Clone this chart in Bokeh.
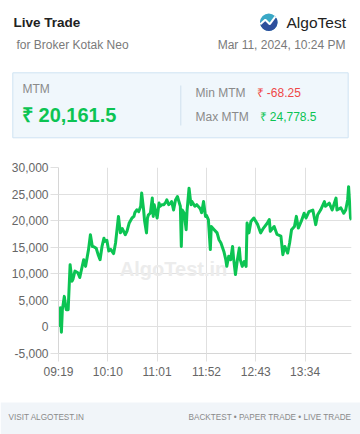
import numpy as np
from bokeh.plotting import figure
from bokeh.layouts import column
from bokeh.models import Range1d, FixedTicker, Label, NumeralTickFormatter
from bokeh.embed import file_html
from bokeh.resources import INLINE
from bokeh.core.properties import value

# ---------------- data ----------------
times = ["09:19", "09:21", "09:22", "09:23", "09:25", "09:27", "09:29", "09:31", "09:33", "09:34",
         "09:36", "09:39", "09:41", "09:45", "09:47", "09:50", "09:52", "09:54", "09:55", "09:58",
         "10:00", "10:02", "10:04", "10:06", "10:07", "10:09", "10:11", "10:13", "10:16", "10:18",
         "10:21", "10:23", "10:25", "10:28", "10:30", "10:32", "10:33", "10:35", "10:37", "10:38",
         "10:40", "10:42", "10:44", "10:45", "10:47", "10:48", "10:50", "10:51", "10:52", "10:54",
         "10:56", "10:57", "10:58", "11:01", "11:03", "11:04", "11:06", "11:08", "11:10", "11:11",
         "11:13", "11:15", "11:16", "11:18", "11:20", "11:22", "11:23", "11:25", "11:26", "11:27",
         "11:29", "11:31", "11:32", "11:34", "11:36", "11:37", "11:40", "11:42", "11:45", "11:46",
         "11:47", "11:49", "11:51", "11:52", "11:54", "11:56", "11:57", "12:00", "12:03", "12:05",
         "12:07", "12:10", "12:12", "12:13", "12:15", "12:17", "12:19", "12:20", "12:22", "12:24",
         "12:26", "12:27", "12:29", "12:31", "12:33", "12:34", "12:36", "12:38", "12:41", "12:45",
         "12:48", "12:51", "12:55", "12:57", "12:58", "13:02", "13:05", "13:09", "13:11", "13:13",
         "13:16", "13:18", "13:20", "13:23", "13:25", "13:27", "13:30", "13:33", "13:35", "13:38",
         "13:42", "13:45", "13:47", "13:50", "13:54", "13:55", "13:59", "14:02", "14:06", "14:07",
         "14:11", "14:14", "14:16", "14:18", "14:19", "14:21", "14:22"]
mtm = [0, 3600, -1000, 3250, 5750, 3250, 3250, 11700, 8600, 9000,
       10500, 10200, 9300, 12650, 11400, 14500, 17350, 15150, 15150, 14800,
       13600, 12650, 15150, 16700, 16100, 16300, 14300, 14600, 13800, 15800,
       20800, 17700, 18500, 17350, 18100, 19500, 19850, 20500, 20800, 21500,
       22050, 21700, 22700, 25200, 22050, 20000, 17700, 20500, 21100, 21400,
       24250, 20800, 23000, 20500, 23300, 22700, 23000, 23000, 23500, 23900,
       23000, 23300, 23600, 22000, 23900, 24550, 23900, 22700, 15150, 22000,
       21400, 18300, 22000, 26100, 23000, 23600, 22700, 23000, 22400, 22050,
       21500, 23600, 20800, 21000, 20200, 14550, 18900, 18300, 17700, 16400,
       15800, 14200, 12650, 11400, 13300, 12650, 15150, 13000, 9850, 12650,
       14850, 12650, 11400, 12300, 11400, 19550, 17700, 19850, 20500, 19250,
       17700, 18600, 19550, 20200, 18000, 18900, 17400, 17100, 13600, 15150,
       13900, 15800, 18300, 18900, 20800, 18600, 19850, 21400, 20500, 21700,
       22000, 19250, 21100, 22000, 23600, 22700, 23300, 22000, 24250, 22000,
       22400, 21400, 22000, 23900, 26400, 20500, 20161.5]
tick_labels = ["09:19", "10:10", "11:01", "11:52", "12:43", "13:34"]
y_ticks = [-5000, 0, 5000, 10000, 15000, 20000, 25000, 30000]

title = "Live Trade"
subtitle = "for Broker Kotak Neo"
brand = "AlgoTest"
stamp = "Mar 11, 2024, 10:24 PM"
mtm_label = "MTM"
mtm_now = "₹ 20,161.5"
min_label, min_val = "Min MTM", "₹ -68.25"
max_label, max_val = "Max MTM", "₹ 24,778.5"
footer_left = "VISIT ALGOTEST.IN"
footer_right = "BACKTEST • PAPER TRADE • LIVE TRADE"

FNAME = "Liberation Sans"
FONT = value(FNAME)
GREEN = "#0cc453"
W = 360


def to_min(t):
    h, m = map(int, t.split(":"))
    return h * 60 + m - (9 * 60 + 19)


xs = [to_min(t) for t in times]
tick_pos = [to_min(t) for t in tick_labels]


def blank(h):
    f = figure(width=W, height=h, x_range=Range1d(0, W), y_range=Range1d(0, h),
               output_backend="svg", toolbar_location=None, min_border=0)
    f.axis.visible = False
    f.grid.visible = False
    f.outline_line_color = None
    f.background_fill_color = "white"
    f.border_fill_color = "white"
    f.frame_align = False
    return f


# ---------------- header ----------------
H1 = 158
hd = blank(H1)
Y = lambda yy: H1 - yy

hd.text(x=[13], y=[Y(21.5)], text=[title], text_font=FONT, text_font_size="13.5px",
        text_font_style="bold", text_color="#222222", text_baseline="middle")
hd.text(x=[16], y=[Y(44)], text=[subtitle], text_font=FONT, text_font_size="12px",
        text_color="#7a7a7a", text_baseline="middle")
hd.text(x=[345], y=[Y(44)], text=[stamp], text_font=FONT, text_font_size="12px",
        text_color="#7a7a7a", text_baseline="middle", text_align="right")
hd.text(x=[286], y=[Y(21.7)], text=[brand], text_font=FONT, text_font_size="15.5px",
        text_color="#222222", text_baseline="middle")

# logo
cx, cy, r = 268.3, Y(21.7), 8.7
hd.circle(x=[cx], y=[cy], radius=r, fill_color="#3aa8c6", line_color=None)
zig_x = np.array([-8.5, -3.5, 1.0, 6.5])
zig_y = np.array([-2.0, 2.5, -2.0, 5.5])
ang = np.linspace(np.deg2rad(20), np.deg2rad(-200), 40)
px = list(cx + zig_x) + list(cx + r * np.cos(ang))
py = list(cy + zig_y) + list(cy + r * np.sin(ang))
hd.patch(x=px, y=py, fill_color="#2e4f9c", line_color=None)
hd.line(x=cx + zig_x, y=cy + zig_y, line_color="white", line_width=2)

# MTM box
hd.quad(left=[12.3], right=[347.7], top=[Y(72.3)], bottom=[Y(137.3)],
        fill_color="#f0f7fc", line_color="#cfe3f2", line_width=1)
hd.segment(x0=[180.3], x1=[180.3], y0=[Y(85)], y1=[Y(125)], line_color="#cfe0ee", line_width=1)
hd.text(x=[22], y=[Y(88.3)], text=[mtm_label], text_font=FONT, text_font_size="12px",
        text_color="#8a8a8a", text_baseline="middle")
hd.text(x=[21.5], y=[Y(114)], text=[mtm_now], text_font=FONT, text_font_size="20px",
        text_font_style="bold", text_color=GREEN, text_baseline="middle")
hd.text(x=[195, 195], y=[Y(92.3), Y(116.7)], text=[min_label, max_label], text_font=FONT,
        text_font_size="12px", text_color="#8a8a8a", text_baseline="middle")
hd.text(x=[256], y=[Y(92.3)], text=[min_val], text_font=FONT, text_font_size="12px",
        text_color="#ef4747", text_baseline="middle")
hd.text(x=[259], y=[Y(116.7)], text=[max_val], text_font=FONT, text_font_size="12px",
        text_color=GREEN, text_baseline="middle")

# ---------------- chart ----------------
H2 = 225
p = figure(width=W, height=H2, x_range=Range1d(0, 303), y_range=Range1d(-5000, 30000),
           output_backend="svg", toolbar_location=None,
           min_border_left=58, min_border_right=9, min_border_top=9, min_border_bottom=30)
p.outline_line_color = None
p.background_fill_color = "white"
p.border_fill_color = "white"
p.frame_align = False

wm = Label(x=119, y=10900, x_units="data", y_units="data", text="AlgoTest.in",
           text_font=FNAME, text_font_size="20px", text_font_style="bold",
           text_color="#ececec", text_align="center", text_baseline="middle", level="underlay")
p.add_layout(wm)

p.line(xs, mtm, line_color=GREEN, line_width=3, line_join="round")

p.xaxis.ticker = FixedTicker(ticks=tick_pos)
p.xaxis.major_label_overrides = {tp: lb for tp, lb in zip(tick_pos, tick_labels)}
p.yaxis.ticker = FixedTicker(ticks=y_ticks)
p.yaxis.formatter = NumeralTickFormatter(format="0,0")
for ax in (p.xaxis, p.yaxis):
    ax.axis_line_color = "#d6d6d6"
    ax.major_tick_line_color = "#e0e0e0"
    ax.major_tick_out = 8
    ax.major_tick_in = 0
    ax.minor_tick_line_color = None
    ax.major_label_text_font = FNAME
    ax.major_label_text_font_size = "12px"
    ax.major_label_text_color = "#666666"
p.yaxis.major_label_standoff = 2
p.xaxis.major_label_standoff = 3
p.xgrid.ticker = FixedTicker(ticks=tick_pos)
p.ygrid.ticker = FixedTicker(ticks=y_ticks)
p.grid.grid_line_color = "#e0e0e0"
p.grid.grid_line_width = 1

# ---------------- footer ----------------
H3 = 434 - H1 - H2
ft = blank(H3)
ft.quad(left=[0], right=[W], top=[H3 - 19], bottom=[-5], fill_color="#f1f5f9", line_color=None)
ft.text(x=[8], y=[H3 - 34], text=[footer_left], text_font=FONT, text_font_size="8.2px",
        text_color="#8a8a8a", text_baseline="middle")
ft.text(x=[351], y=[H3 - 34], text=[footer_right], text_font=FONT, text_font_size="8.2px",
        text_color="#8a8a8a", text_baseline="middle", text_align="right")

layout = column(hd, p, ft, spacing=0)
open("out.html", "w").write(file_html(layout, INLINE))
